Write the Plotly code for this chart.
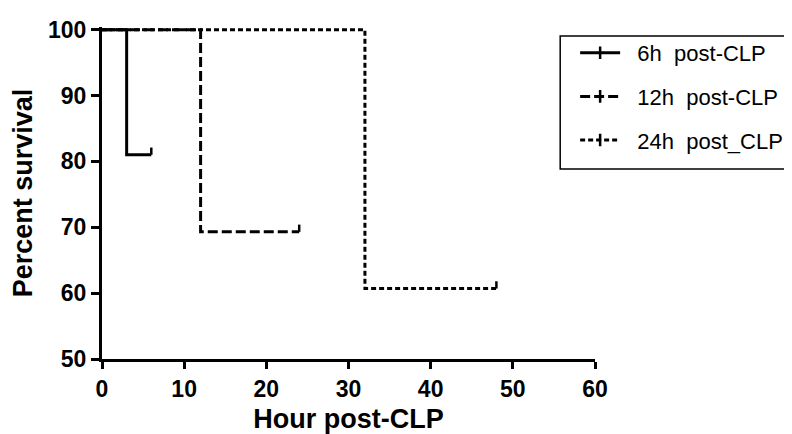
import plotly.graph_objects as go

# Kaplan-Meier step data (hours, percent survival)
names = ["6h\u00a0 post-CLP", "12h\u00a0 post-CLP", "24h\u00a0 post_CLP"]
times = [[0, 3, 6], [0, 12, 24], [0, 32, 48]]
survival = [[100, 81.0, 81.0], [100, 69.3, 69.3], [100, 60.7, 60.7]]
dashes = ["solid", "10px,4px", "5px,3px"]

x_ticks = [0, 10, 20, 30, 40, 50, 60]
y_ticks = [50, 60, 70, 80, 90, 100]

CENSOR_TICK = 1.1  # height of censor tick in percent units

fig = go.Figure()
for i, name in enumerate(names):
    fig.add_trace(go.Scatter(
        x=times[i], y=survival[i], mode="lines", line_shape="hv",
        line=dict(color="black", width=3, dash=dashes[i]),
        showlegend=False, hoverinfo="skip"))
    # censor tick at last follow-up time
    fig.add_trace(go.Scatter(
        x=[times[i][-1], times[i][-1]],
        y=[survival[i][-1], survival[i][-1] + CENSOR_TICK],
        mode="lines", line=dict(color="black", width=2.5),
        showlegend=False, hoverinfo="skip"))
    fig.add_trace(go.Scatter(
        x=[None], y=[None], mode="lines+markers",
        name="\u00a0\u00a0" + name, legendgroup=name,
        line=dict(color="black", width=3, dash=dashes[i]),
        marker=dict(symbol="line-ns", size=9, color="black",
                    line=dict(color="black", width=2.5))))

FAM = "Liberation Sans, Arial, sans-serif"
axis_font = dict(family=FAM, size=23, color="black", weight="bold")
title_font = dict(family=FAM, size=27, color="black", weight="bold")

fig.update_layout(
    width=792, height=434,
    margin=dict(l=94, r=202, t=19, b=83),
    plot_bgcolor="white", paper_bgcolor="white",
    xaxis=dict(range=[0, 60], tickvals=x_ticks, showgrid=False, zeroline=False,
               showline=True, linecolor="black", linewidth=3,
               ticks="outside", ticklen=7, tickwidth=3, tickcolor="black",
               tickfont=axis_font, automargin=False,
               title=dict(text="Hour post-CLP", font=title_font, standoff=9)),
    yaxis=dict(range=[50, 100.4], tickvals=y_ticks, showgrid=False, zeroline=False,
               showline=True, linecolor="black", linewidth=3,
               ticks="outside", ticklen=8, tickwidth=3, tickcolor="black",
               tickfont=axis_font, automargin=False,
               title=dict(text="Percent survival", font=title_font, standoff=17)),
    legend=dict(x=0.9597, y=0.985, xanchor="left", yanchor="top",
                borderwidth=0, bgcolor="rgba(0,0,0,0)",
                font=dict(family=FAM, size=22, color="black"),
                tracegroupgap=12, itemwidth=40),
    shapes=[dict(type="rect", xref="paper", yref="paper",
                 x0=0.9294, x1=1.45, y0=0.572, y1=0.973,
                 line=dict(color="black", width=1.5), fillcolor="rgba(0,0,0,0)")],
)

fig.write_html("out.html")
